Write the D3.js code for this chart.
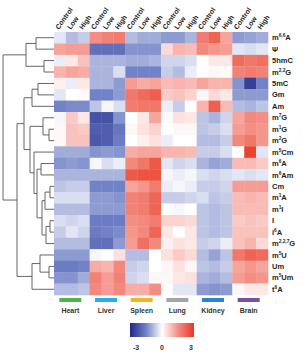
<!DOCTYPE html>
<html>
<head>
<meta charset="utf-8">
<script src="https://cdn.jsdelivr.net/npm/d3@7"></script>
<style>
  body { margin: 0; background: #fff; }
  text { font-family: "Liberation Sans", Arial, sans-serif; font-weight: bold; fill: #222; }
</style>
</head>
<body>
<div id="chart"></div>
<script>
// row labels, odd parts are superscripts
var rowLabels = [
  ["m","6,6","A"], ["\u03A8"], ["5hmC"], ["m","2,2","G"], ["5mC"], ["Gm"], ["Am"],
  ["m","7","G"], ["m","1","G"], ["m","2","G"], ["m","5","Cm"], ["m","6","A"], ["m","6","Am"],
  ["Cm"], ["m","1","A"], ["m","1","I"], ["I"], ["i","6","A"], ["m","2,2,7","G"],
  ["m","5","U"], ["Um"], ["m","5","Um"], ["t","6","A"]
];
var tissues = ["Heart", "Liver", "Spleen", "Lung", "Kidney", "Brain"];
var tissueColors = ["#4fb54b", "#2aaee4", "#f8b320", "#a5a5a5", "#2a86c9", "#7a4f9f"];
var doses = ["Control", "Low", "High"];

// z-scores, one row per modification, 18 columns (6 tissues x 3 doses)
var values = [
  [-0.3,-0.8,-0.6, 1.5,1.7,1.8, -0.8,-1.0,-1.0, -1.2,-1.2,-0.9, 1.8,2.2,1.2, -1.2,-1.1,-1.0],
  [1.2,1.3,1.3, -1.8,-1.8,-1.8, -1.3,-1.3,-1.3, 0.5,1.0,0.9, 1.6,1.4,1.3, -0.3,-0.4,-0.3],
  [-0.2,0.3,0.8, -0.9,-0.9,-0.9, -1.0,-1.0,-0.9, -0.5,-0.5,-0.4, 0,0.3,0.3, 2.1,1.9,2.0],
  [1.0,1.2,1.1, -0.9,-0.9,-0.4, -1.5,-1.5,-1.5, -0.6,-0.8,-0.2, 0,0.1,0.05, 1.7,1.8,1.7],
  [0.2,-0.2,0.3, -0.9,-0.9,-1.2, 1.3,1.1,1.2, 0.9,1.0,0.9, 1.2,1.0,1.0, -1.3,-2.6,-1.5],
  [-0.3,0,0.05, -1.5,-1.5,-1.2, 1.9,2.1,2.3, 0.7,0.8,0.6, 0.1,0.5,0.3, -1.2,-1.2,-1.2],
  [-1.5,-1.4,-1.4, -0.7,-0.1,-0.4, 1.8,1.9,1.9, -0.2,-0.6,0, 1.0,2.3,0.9, -0.8,-0.9,-0.7],
  [-0.1,0.7,0.3, -2.3,-2.3,-1.3, 0,0.3,1.2, -0.05,0.4,0.3, -0.7,-0.9,-0.5, 1.2,1.6,1.5],
  [0.1,0.8,0.7, -2.1,-2.1,-1.7, 0.1,0.4,0.6, 0,0.1,0.1, -0.7,-0.6,-0.4, 1.3,1.5,1.4],
  [0.1,0.8,0.8, -2.2,-2.1,-1.6, 0,0.2,0.4, -0.2,0,0, -0.8,-0.8,-0.6, 1.6,1.9,1.4],
  [-1.0,-1.0,-1.0, -1.3,-1.2,-1.3, 1.1,1.2,1.2, 1.0,1.0,0.9, -0.6,-0.6,-0.4, 0,2.8,-0.3],
  [-1.3,-1.2,-1.3, -0.1,-0.4,-0.2, 1.6,1.9,2.4, -0.3,-0.5,-0.4, -0.9,-1.1,-1.0, 0.9,0.9,0.7],
  [-0.9,-0.9,-0.9, -0.9,-0.9,-0.9, 2.4,2.5,2.5, -0.1,-0.2,-0.1, -0.4,-0.5,-0.4, -0.3,-0.4,-0.3],
  [-0.7,-0.6,-0.6, -1.5,-1.5,-1.5, 1.2,1.4,1.8, -0.2,-0.1,-0.2, -0.6,-0.6,-0.5, 1.3,1.3,1.3],
  [-0.4,-0.4,-0.4, -1.2,-1.2,-1.3, 1.7,1.8,2.2, -0.6,-0.6,-0.5, -0.4,-0.7,-0.6, 0.9,1.0,0.9],
  [-0.8,-0.8,-0.8, -1.2,-1.2,-1.2, 1.7,1.8,2.2, 0,-0.1,0, -0.7,-0.8,-0.7, 0.9,0.9,0.9],
  [-0.4,-0.5,-0.4, -1.6,-1.6,-1.6, 1.5,1.6,1.8, 0.6,0.6,0.5, -0.7,-0.8,-0.7, 0.7,0.8,0.7],
  [-0.6,-0.3,-0.5, -1.6,-1.5,-1.4, 1.4,1.6,2.2, 0.3,0,0.3, -0.7,-0.8,-0.7, 0.8,0.8,0.8],
  [-0.8,-0.8,-0.8, -1.8,-1.8,-1.2, 1.3,2.0,1.6, 0.2,0.4,0.3, -0.6,-0.5,-0.2, 0.8,1.0,0.5],
  [-1.2,-1.2,-1.2, -0.1,0,0.4, -0.8,-0.8,0, 0.4,0.7,0.5, -0.8,-1.1,-0.7, 1.9,2.2,2.1],
  [-1.6,-1.6,-1.5, 1.1,1.0,1.6, -0.6,-0.5,0, 0.1,0.4,0.1, -0.7,-0.8,-0.6, 1.2,1.4,1.2],
  [-1.3,-1.3,-1.0, 1.7,1.3,1.7, -0.5,-0.4,0.1, 0.1,0.3,0.4, -0.9,-1.0,-0.8, 1.3,1.5,1.4],
  [-0.8,-0.8,-0.7, 1.6,1.3,1.6, 1.1,1.1,1.5, 0,-0.3,-0.3, -1.2,-1.3,-1.2, 0.1,0.3,0.3]
];

// row dendrogram merges [a, b, height]; index >= 23 refers to earlier merge (23 + k)
var merges = [
  [0, 1, 1.8],     // 23
  [2, 3, 1.0],     // 24
  [23, 24, 2.8],   // 25
  [4, 5, 1.6],     // 26
  [26, 6, 2.2],    // 27
  [8, 9, 0.5],     // 28
  [7, 28, 1.1],    // 29
  [13, 14, 0.4],   // 30
  [30, 15, 0.9],   // 31
  [16, 17, 0.4],   // 32
  [32, 18, 0.8],   // 33
  [31, 33, 1.2],   // 34
  [11, 12, 1.3],   // 35
  [35, 34, 1.7],   // 36
  [10, 36, 2.0],   // 37
  [29, 37, 2.4],   // 38
  [27, 38, 3.0],   // 39
  [20, 21, 0.5],   // 40
  [19, 40, 1.4],   // 41
  [41, 22, 2.2],   // 42
  [39, 42, 3.7],   // 43
  [25, 43, 5.1]    // 44
];

var W = 303, H = 355;
var hm = { left: 54, right: 268, top: 32, bottom: 295 };

var svg = d3.select("#chart").append("svg")
  .attr("width", W)
  .attr("height", H);

var cols = d3.range(18);
var x = d3.scaleBand().domain(cols).range([hm.left, hm.right]);
var y = d3.scaleBand().domain(d3.range(rowLabels.length)).range([hm.top, hm.bottom]);

var color = d3.scaleLinear()
  .domain([-3, -1.5, 0, 1.5, 3])
  .range(["#1d2a86", "#7282c6", "#ffffff", "#f48e84", "#e8361f"])
  .clamp(true);

// heatmap cells
var cells = [];
values.forEach(function(row, i) {
  row.forEach(function(v, j) { cells.push({ r: i, c: j, v: v }); });
});

svg.append("g")
  .selectAll("rect")
  .data(cells)
  .enter().append("rect")
  .attr("x", function(d) { return x(d.c); })
  .attr("y", function(d) { return y(d.r); })
  .attr("width", x.bandwidth() + 0.3)
  .attr("height", y.bandwidth() + 0.3)
  .attr("fill", function(d) { return color(d.v); });

// column labels
svg.append("g")
  .selectAll("text")
  .data(cols)
  .enter().append("text")
  .attr("transform", function(d) {
    return "translate(" + (x(d) + x.bandwidth() / 2 - 1) + "," + (hm.top - 2) + ") rotate(-55)";
  })
  .style("font-size", "7px")
  .text(function(d) { return doses[d % 3]; });

// row labels with superscripts
var rl = svg.append("g")
  .selectAll("text")
  .data(rowLabels)
  .enter().append("text")
  .attr("x", hm.right + 4)
  .attr("y", function(d, i) { return y(i) + y.bandwidth() / 2 + 2.6; })
  .style("font-size", "7.5px");

rl.each(function(parts) {
  var t = d3.select(this);
  parts.forEach(function(p, k) {
    var ts = t.append("tspan").text(p);
    if (k % 2 == 1) {
      ts.style("font-size", "4.8px").attr("dy", "-3");
    } else if (k > 0) {
      ts.attr("dy", "3");
    }
  });
});

// dendrogram
var nLeaves = rowLabels.length;
var dx = d3.scaleLinear().domain([0, 5.1]).range([hm.left, 3]);
var nodes = d3.range(nLeaves).map(function(i) {
  return { y: y(i) + y.bandwidth() / 2, h: 0 };
});
var dend = svg.append("g")
  .attr("fill", "none")
  .attr("stroke", "#555")
  .attr("stroke-width", 0.9);

merges.forEach(function(m) {
  var a = nodes[m[0]], b = nodes[m[1]];
  var xm = dx(m[2]);
  dend.append("path")
    .attr("d", "M" + dx(a.h) + "," + a.y + "H" + xm + "V" + b.y + "H" + dx(b.h));
  nodes.push({ y: (a.y + b.y) / 2, h: m[2] });
});

// tissue group bars and labels
var groupW = x.bandwidth() * 3;
var groups = svg.append("g")
  .selectAll("g")
  .data(tissues)
  .enter().append("g")
  .attr("transform", function(d, i) {
    return "translate(" + (hm.left + groupW * i + groupW / 2 - 1.5) + ",0)";
  });

groups.append("rect")
  .attr("x", -11)
  .attr("y", 298)
  .attr("width", 22)
  .attr("height", 4)
  .attr("fill", function(d, i) { return tissueColors[i]; });

groups.append("text")
  .attr("y", 313)
  .attr("text-anchor", "middle")
  .style("font-size", "7px")
  .style("fill", "#333")
  .text(function(d) { return d; });

// colour legend
var legendTicks = [-3, 0, 3];
var lx = d3.scaleLinear().domain([-3, 3]).range([130, 194]);

var grad = svg.append("defs").append("linearGradient")
  .attr("id", "grad")
  .attr("x1", "0%").attr("x2", "100%");
grad.selectAll("stop")
  .data(color.domain())
  .enter().append("stop")
  .attr("offset", function(d) { return ((d + 3) / 6 * 100) + "%"; })
  .attr("stop-color", function(d) { return color(d); });

svg.append("rect")
  .attr("x", lx(-3))
  .attr("y", 323)
  .attr("width", lx(3) - lx(-3))
  .attr("height", 14)
  .attr("fill", "url(#grad)");

svg.append("g")
  .selectAll("text")
  .data(legendTicks)
  .enter().append("text")
  .attr("x", function(d) { return lx(d) + (d == -3 ? 6 : d == 3 ? -3 : 0); })
  .attr("y", 350)
  .attr("text-anchor", "middle")
  .style("font-size", "7px")
  .style("fill", "#333")
  .text(function(d) { return d; });
</script>
</body>
</html>
